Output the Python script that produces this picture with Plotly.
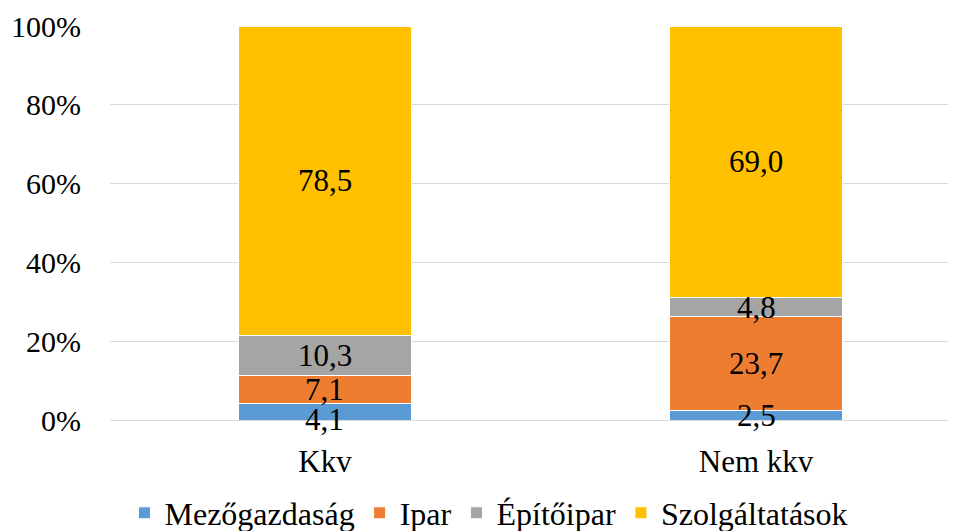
import plotly.graph_objects as go

categories = ["Kkv", "Nem kkv"]
series_names = ["Mezőgazdaság", "Ipar", "Építőipar", "Szolgáltatások"]
mezogazdasag = [4.1, 2.5]
ipar = [7.1, 23.7]
epitoipar = [10.3, 4.8]
szolgaltatasok = [78.5, 69.0]
tick_vals = [0, 20, 40, 60, 80, 100]
tick_text = ["0%", "20%", "40%", "60%", "80%", "100%"]

colors = ["#5B9BD5", "#ED7D31", "#A5A5A5", "#FFC000"]
series = [mezogazdasag, ipar, epitoipar, szolgaltatasok]
FONT = "Liberation Serif"

fig = go.Figure()
for name, vals, col in zip(series_names, series, colors):
    fig.add_trace(go.Bar(
        x=categories, y=vals, name=name,
        marker=dict(color=col, line=dict(color="white", width=1)),
        width=0.4, hoverinfo="x+y+name",
    ))

# data labels centred in segments
label_shift = {(0, 0): -8}
annotations = []
for ci, cat in enumerate(categories):
    base = 0
    for si, vals in enumerate(series):
        v = vals[ci]
        annotations.append(dict(
            x=cat, y=base + v / 2, xref="x", yref="y",
            text=f"{v:.1f}".replace(".", ","), showarrow=False,
            font=dict(family=FONT, size=31, color="black"),
            yshift=label_shift.get((si, ci), 0),
        ))
        base += v

fig.update_layout(
    barmode="stack",
    width=948, height=523,
    margin=dict(l=102, r=0, t=18, b=111, autoexpand=False),
    plot_bgcolor="white", paper_bgcolor="white",
    font=dict(family=FONT, size=30, color="black"),
    annotations=annotations,
    xaxis=dict(type="category", range=[-0.4988, 1.464], showgrid=False,
               showline=False, ticks="", ticklabelstandoff=20,
               tickfont=dict(size=31, family=FONT, color="black")),
    yaxis=dict(range=[0, 100], tickvals=tick_vals, ticktext=tick_text,
               showgrid=True, gridcolor="#D9D9D9", gridwidth=1,
               zeroline=True, zerolinecolor="#D9D9D9", zerolinewidth=1,
               showline=False, ticks="", ticklabelstandoff=28,
               tickfont=dict(size=30, family=FONT, color="black")),
    legend=dict(orientation="h", x=0.448, xanchor="center", y=-0.236, yanchor="middle",
                font=dict(size=32, family=FONT, color="black"), traceorder="normal",
                itemwidth=30),
    showlegend=True,
)

fig.write_html("out.html")
